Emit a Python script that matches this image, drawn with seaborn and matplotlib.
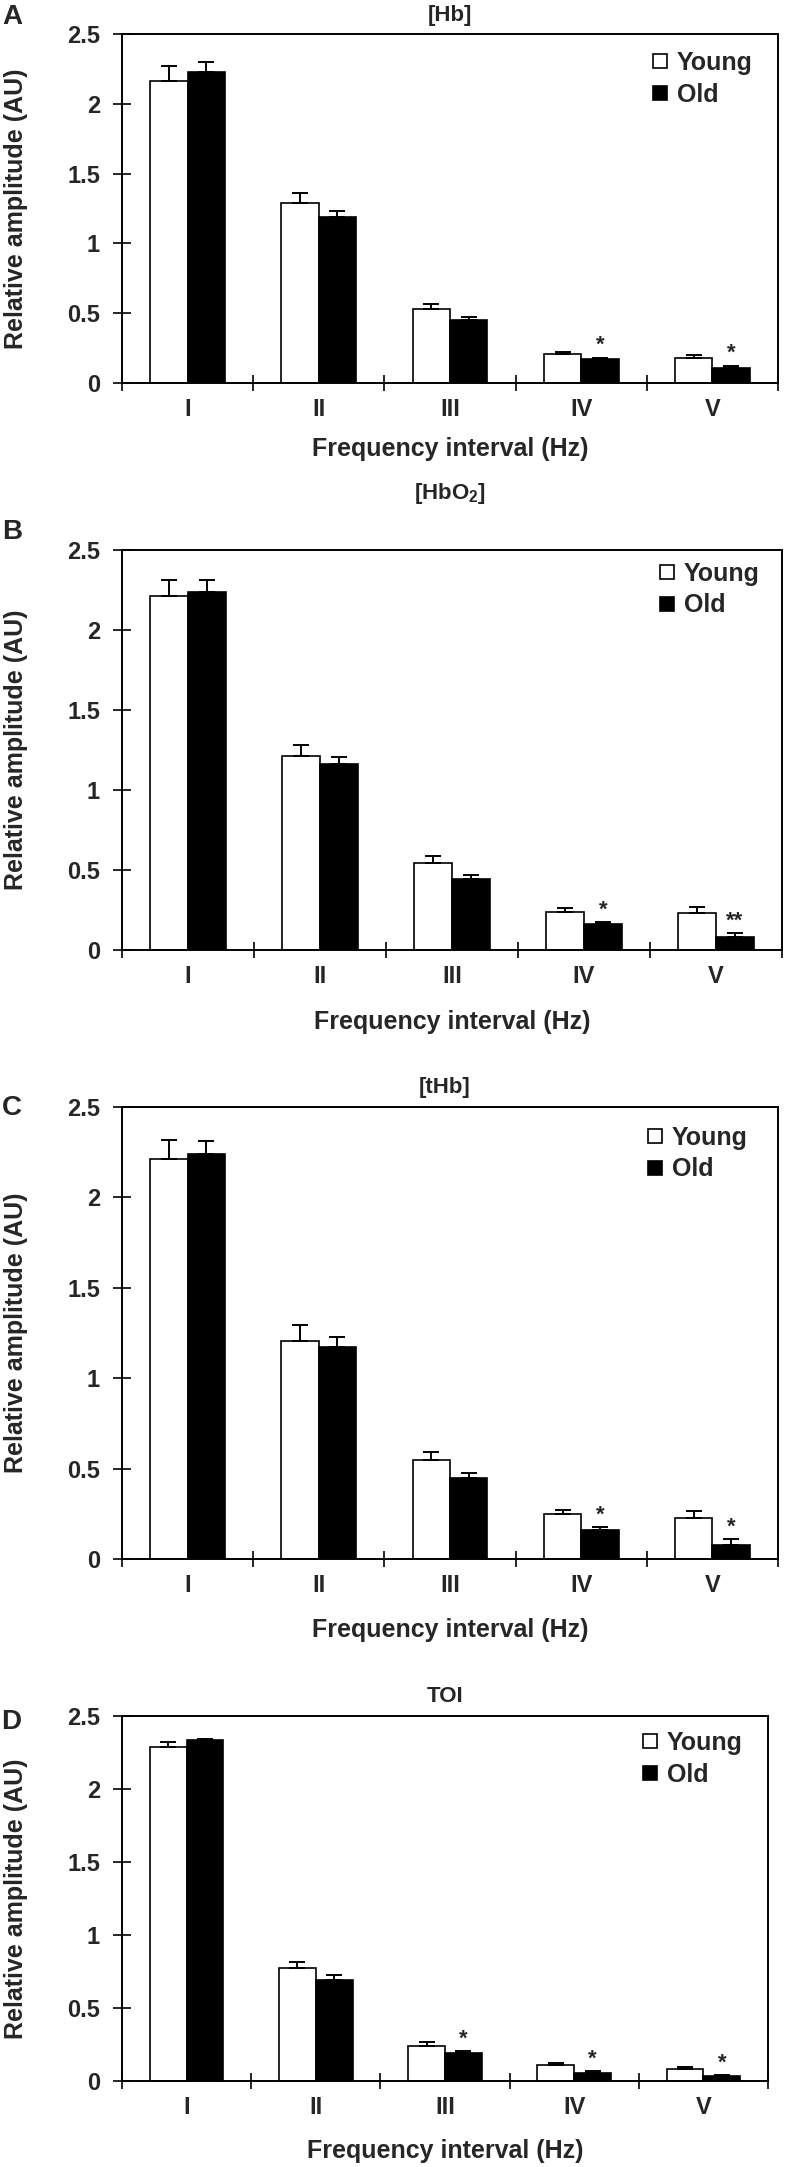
import numpy as np
import pandas as pd
import seaborn as sns
import matplotlib.pyplot as plt
from matplotlib.lines import Line2D
from matplotlib.ticker import FixedLocator

# frequency intervals
intervals = ['I', 'II', 'III', 'IV', 'V']
groups = ['Young', 'Old']

# [Hb]
hb_young = [2.16, 1.29, 0.53, 0.21, 0.18]
hb_young_err = [0.11, 0.07, 0.035, 0.015, 0.02]
hb_old = [2.23, 1.19, 0.45, 0.17, 0.11]
hb_old_err = [0.07, 0.045, 0.025, 0.012, 0.015]
hb_stars = ['', '', '', '*', '*']

# [HbO2]
hbo2_young = [2.21, 1.21, 0.545, 0.237, 0.233]
hbo2_young_err = [0.10, 0.07, 0.04, 0.026, 0.034]
hbo2_old = [2.24, 1.16, 0.442, 0.16, 0.08]
hbo2_old_err = [0.07, 0.047, 0.026, 0.013, 0.028]
hbo2_stars = ['', '', '', '*', '**']

# [tHb]
thb_young = [2.21, 1.205, 0.547, 0.248, 0.225]
thb_young_err = [0.105, 0.09, 0.045, 0.023, 0.042]
thb_old = [2.24, 1.17, 0.448, 0.162, 0.076]
thb_old_err = [0.07, 0.06, 0.03, 0.013, 0.033]
thb_stars = ['', '', '', '*', '*']

# TOI
toi_young = [2.285, 0.775, 0.241, 0.107, 0.079]
toi_young_err = [0.035, 0.043, 0.024, 0.015, 0.014]
toi_old = [2.333, 0.694, 0.193, 0.055, 0.031]
toi_old_err = [0.012, 0.029, 0.015, 0.012, 0.012]
toi_stars = ['', '', '*', '*', '*']

panels = [
    ('A', '[Hb]', hb_young, hb_young_err, hb_old, hb_old_err, hb_stars),
    ('B', r'[HbO$_{\mathbf{2}}$]', hbo2_young, hbo2_young_err, hbo2_old, hbo2_old_err, hbo2_stars),
    ('C', '[tHb]', thb_young, thb_young_err, thb_old, thb_old_err, thb_stars),
    ('D', 'TOI', toi_young, toi_young_err, toi_old, toi_old_err, toi_stars),
]

# pixel layout: axes (left, right, top, bottom), letter xy, title xy, legend top-left, xlabel drop
layout = [
    ((122, 778, 34, 383), (12, 17), (450, 15), (652, 51), 66),
    ((122, 782, 550, 950), (12, 532), (450, 494), (659, 562), 72),
    ((122, 778, 1107, 1559), (12, 1108), (445, 1088), (647, 1126), 71),
    ((122, 768, 1716, 2081), (11, 1722), (445, 1696), (642, 1731), 70),
]

sns.set_style('ticks')
plt.rcParams['font.family'] = ['Liberation Sans', 'DejaVu Sans']
plt.rcParams['font.weight'] = 'bold'
plt.rcParams['mathtext.fontset'] = 'custom'
plt.rcParams['mathtext.rm'] = 'Liberation Sans:bold'
plt.rcParams['mathtext.bf'] = 'Liberation Sans:bold'

W, H = 787, 2167
fig = plt.figure(figsize=(W / 100, H / 100), dpi=100)

for (letter, title, yv, ye, ov, oe, stars), (box, lxy, txy, legxy, drop) in zip(panels, layout):
    left, right, top, bottom = box
    ax = fig.add_axes([left / W, 1 - bottom / H, (right - left) / W, (bottom - top) / H])
    aw, ah = right - left, bottom - top

    df = pd.DataFrame({
        'interval': intervals * 2,
        'group': ['Young'] * 5 + ['Old'] * 5,
        'value': yv + ov,
    })
    sns.barplot(data=df, x='interval', y='value', hue='group', hue_order=groups,
                palette={'Young': 'white', 'Old': 'black'}, edgecolor='black',
                linewidth=1.2, width=0.57, gap=0, errorbar=None, legend=False,
                saturation=1, ax=ax)

    # upper error bars only
    for cont, errs in zip(ax.containers, [ye, oe]):
        xs = [b.get_x() + b.get_width() / 2 for b in cont]
        hs = [b.get_height() for b in cont]
        ax.errorbar(xs, hs, yerr=[np.zeros(len(errs)), errs], fmt='none',
                    ecolor='black', elinewidth=1.4, capsize=6, capthick=1.4, zorder=1)

    # significance stars above the Old bars
    for b, e, s in zip(ax.containers[1], oe, stars):
        if s:
            ax.annotate(s, (b.get_x() + b.get_width() / 2, b.get_height() + e),
                        xytext=(0, 1), textcoords='offset points', ha='center',
                        va='bottom', fontsize=16, fontweight='bold')

    ax.set_xlim(-0.5, 4.5)
    ax.set_ylim(0, 2.5)
    ax.set_yticks([0, 0.5, 1, 1.5, 2, 2.5])
    ax.set_yticklabels(['0', '0.5', '1', '1.5', '2', '2.5'])
    ax.xaxis.set_minor_locator(FixedLocator(np.arange(-0.5, 5, 1)))
    ax.tick_params(axis='x', which='major', length=0, pad=11, labelsize=17)
    ax.tick_params(axis='x', which='minor', direction='inout', length=12, width=1.4)
    ax.tick_params(axis='y', direction='inout', length=13, width=1.4, pad=9.4, labelsize=17)
    for sp in ax.spines.values():
        sp.set_linewidth(1.4)
        sp.set_color('black')

    ax.set_xlabel('Frequency interval (Hz)', fontsize=18, fontweight='bold')
    ax.set_ylabel('Relative amplitude (AU)', fontsize=18, fontweight='bold')
    ax.xaxis.set_label_coords(0.5, -drop / ah)
    ax.xaxis.label.set_va('center')
    ax.yaxis.set_label_coords((16 - left) / aw, 0.5)
    ax.yaxis.label.set_va('center')

    handles = [Line2D([], [], ls='none', marker='s', markersize=10, markerfacecolor=c,
                      markeredgecolor='black', markeredgewidth=1.2) for c in ['white', 'black']]
    ax.legend(handles, groups, loc='upper left', bbox_to_anchor=(legxy[0] / W, 1 - legxy[1] / H),
              bbox_transform=fig.transFigure, frameon=False, borderpad=0, borderaxespad=0,
              handlelength=0.6, handletextpad=0.4, labelspacing=0.3,
              prop={'size': 18, 'weight': 'bold'})

    fig.text(txy[0] / W, 1 - txy[1] / H, title, ha='center', va='center', fontsize=16,
             fontweight='bold')
    fig.text(lxy[0] / W, 1 - lxy[1] / H, letter, ha='center', va='center', fontsize=20,
             fontweight='bold')

fig.savefig('out.png', dpi=100)
